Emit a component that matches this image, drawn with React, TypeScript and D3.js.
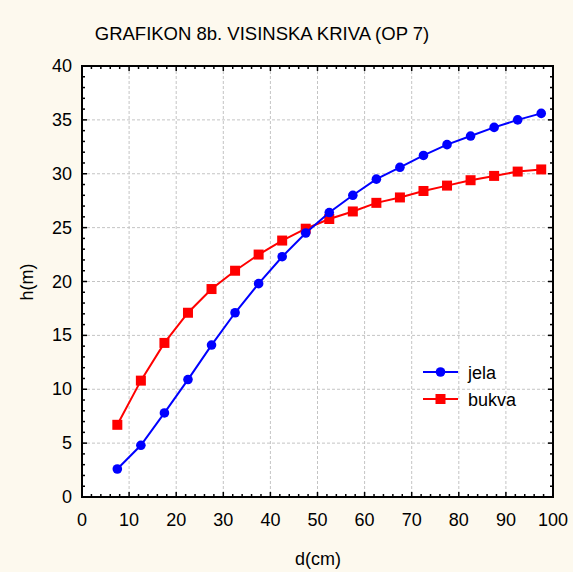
import React, { useEffect, useRef } from 'react';
import * as d3 from 'd3';

const diameters = [7.5, 12.5, 17.5, 22.5, 27.5, 32.5, 37.5, 42.5, 47.5, 52.5, 57.5, 62.5, 67.5, 72.5, 77.5, 82.5, 87.5, 92.5, 97.5];
const jela = [2.6, 4.8, 7.8, 10.9, 14.1, 17.1, 19.8, 22.3, 24.5, 26.4, 28.0, 29.5, 30.6, 31.7, 32.7, 33.5, 34.3, 35.0, 35.6];
const bukva = [6.7, 10.8, 14.3, 17.1, 19.3, 21.0, 22.5, 23.8, 24.9, 25.8, 26.5, 27.3, 27.8, 28.4, 28.9, 29.4, 29.8, 30.2, 30.4];
const xTicks = [0, 10, 20, 30, 40, 50, 60, 70, 80, 90, 100];
const yTicks = [0, 5, 10, 15, 20, 25, 30, 35, 40];

export default function App() {
  const svgRef = useRef<SVGSVGElement>(null);

  useEffect(() => {
    if (!svgRef.current) return;
    const svg = d3.select(svgRef.current);
    svg.selectAll("*").remove();

    const width = 573;
    const height = 572;
    const left = 82, right = 553, top = 66, bottom = 497;
    const font = "Arial, 'Liberation Sans', sans-serif";

    const x = d3.scaleLinear().domain([0, 100]).range([left, right]);
    const y = d3.scaleLinear().domain([0, 40]).range([bottom, top]);

    svg.append("rect").attr("width", width).attr("height", height).attr("fill", "#fdf9ee");
    svg.append("rect").attr("x", left).attr("y", top).attr("width", right - left).attr("height", bottom - top).attr("fill", "#ffffff");

    // grid
    xTicks.slice(1, -1).forEach(t => {
      svg.append("line").attr("x1", x(t)).attr("x2", x(t)).attr("y1", top).attr("y2", bottom)
        .attr("stroke", "#c4c4c4").attr("stroke-dasharray", "3,2");
    });
    yTicks.slice(1, -1).forEach(t => {
      svg.append("line").attr("x1", left).attr("x2", right).attr("y1", y(t)).attr("y2", y(t))
        .attr("stroke", "#c4c4c4").attr("stroke-dasharray", "3,2");
    });

    // minor and major ticks on all sides, pointing inward
    d3.range(0, 101, 2).forEach(t => {
      const len = t % 10 === 0 ? 5 : 3;
      svg.append("line").attr("x1", x(t)).attr("x2", x(t)).attr("y1", bottom).attr("y2", bottom - len).attr("stroke", "#000").attr("stroke-width", 1.5);
      svg.append("line").attr("x1", x(t)).attr("x2", x(t)).attr("y1", top).attr("y2", top + len).attr("stroke", "#000").attr("stroke-width", 1.5);
    });
    d3.range(0, 41, 1).forEach(t => {
      const len = t % 5 === 0 ? 5 : 3;
      svg.append("line").attr("x1", left).attr("x2", left + len).attr("y1", y(t)).attr("y2", y(t)).attr("stroke", "#000").attr("stroke-width", 1.5);
      svg.append("line").attr("x1", right).attr("x2", right - len).attr("y1", y(t)).attr("y2", y(t)).attr("stroke", "#000").attr("stroke-width", 1.5);
    });

    svg.append("rect").attr("x", left).attr("y", top).attr("width", right - left).attr("height", bottom - top)
      .attr("fill", "none").attr("stroke", "#000").attr("stroke-width", 2);

    // tick labels
    xTicks.forEach(t => {
      svg.append("text").attr("x", x(t)).attr("y", bottom + 29).attr("text-anchor", "middle")
        .attr("font-family", font).attr("font-size", 18).attr("fill", "#000").text(t);
    });
    yTicks.forEach(t => {
      svg.append("text").attr("x", left - 10).attr("y", y(t) + 6).attr("text-anchor", "end")
        .attr("font-family", font).attr("font-size", 18).attr("fill", "#000").text(t);
    });

    svg.append("text").attr("x", 262).attr("y", 40).attr("text-anchor", "middle")
      .attr("font-family", font).attr("font-size", 18.5).attr("fill", "#000").text("GRAFIKON 8b. VISINSKA KRIVA (OP 7)");
    svg.append("text").attr("x", 318).attr("y", 565).attr("text-anchor", "middle")
      .attr("font-family", font).attr("font-size", 18).attr("fill", "#000").text("d(cm)");
    svg.append("text").attr("transform", "translate(33,282) rotate(-90)").attr("text-anchor", "middle")
      .attr("font-family", font).attr("font-size", 18).attr("fill", "#000").text("h(m)");

    const line = d3.line<number>().x((_, i) => x(diameters[i])).y(d => y(d));

    svg.append("path").datum(bukva).attr("d", line).attr("fill", "none").attr("stroke", "#ff0000").attr("stroke-width", 2);
    svg.selectAll(".sq").data(bukva).enter().append("rect")
      .attr("x", (_, i) => x(diameters[i]) - 5).attr("y", d => y(d) - 5)
      .attr("width", 10).attr("height", 10).attr("fill", "#ff0000");

    svg.append("path").datum(jela).attr("d", line).attr("fill", "none").attr("stroke", "#0000ff").attr("stroke-width", 2);
    svg.selectAll(".dot").data(jela).enter().append("circle")
      .attr("cx", (_, i) => x(diameters[i])).attr("cy", d => y(d)).attr("r", 4.8).attr("fill", "#0000ff");

    // legend
    const lx1 = 423, lx2 = 458, lc = 440.5;
    svg.append("line").attr("x1", lx1).attr("x2", lx2).attr("y1", 372).attr("y2", 372).attr("stroke", "#0000ff").attr("stroke-width", 2);
    svg.append("circle").attr("cx", lc).attr("cy", 372).attr("r", 4.8).attr("fill", "#0000ff");
    svg.append("text").attr("x", 468).attr("y", 379).attr("font-family", font).attr("font-size", 18).attr("fill", "#000").text("jela");
    svg.append("line").attr("x1", lx1).attr("x2", lx2).attr("y1", 399).attr("y2", 399).attr("stroke", "#ff0000").attr("stroke-width", 2);
    svg.append("rect").attr("x", lc - 5).attr("y", 394).attr("width", 10).attr("height", 10).attr("fill", "#ff0000");
    svg.append("text").attr("x", 468).attr("y", 406).attr("font-family", font).attr("font-size", 18).attr("fill", "#000").text("bukva");
  }, []);

  return (
    <div style={{ position: 'fixed', top: 0, left: 0 }}>
      <svg ref={svgRef} width={573} height={572} style={{ display: 'block' }}></svg>
    </div>
  );
}
